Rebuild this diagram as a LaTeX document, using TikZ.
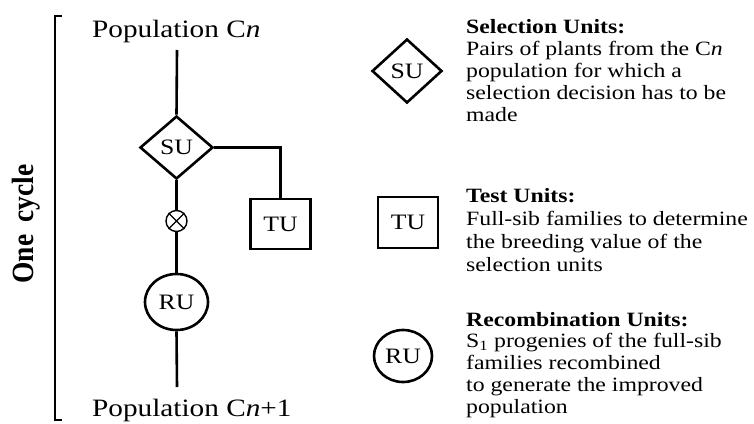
\documentclass[tikz,border=0pt]{standalone}
\usepackage{fontspec}
\setmainfont{Liberation Serif}[FakeStretch=1.17]
\newfontfamily\plainserif{Liberation Serif}
\usetikzlibrary{shapes.geometric}
\tikzset{
  ln/.style={line width=2.6pt},
  unit/.style={draw, line width=2.6pt, inner sep=0pt, font=\fontsize{22}{24}\selectfont},
  sudia/.style={unit, diamond, minimum width=73pt, minimum height=63pt, aspect=1.16},
  tubox/.style={unit, rectangle, minimum width=60pt, minimum height=50pt},
  ruell/.style={unit, ellipse, minimum width=63pt, minimum height=56pt},
  poplabel/.style={inner sep=0pt, anchor=base west, font=\fontsize{25}{27}\selectfont},
  legtext/.style={inner sep=0pt, anchor=base west, font=\fontsize{20.3}{22}\selectfont},
}
\newcommand{\legblock}[1]{\parbox[t]{290pt}{\raggedright #1}}
\begin{document}
\begin{tikzpicture}[x=1pt,y=-1pt]
\useasboundingbox (0,0) rectangle (754,423);
% bracket
\draw[line width=2.6pt] (62,16) -- (55,16) -- (55,420) -- (62,420);
\node[rotate=90, inner sep=0pt, font=\plainserif\bfseries\fontsize{27.5}{29}\selectfont] (cyc) at (26,224) {\scalebox{1}[1.12]{One\hspace{12pt}cycle}};
% flow
\node[poplabel] (pcn) at (92,37) {Population C\textit{n}};
\node[poplabel] (pcn1) at (92,416) {Population C\textit{n}+1};
\coordinate (top) at (177,50);
\coordinate (bot) at (177,387);
\node[sudia] (su) at (176.5,147.5) {SU};
\node[tubox] (tu) at (280.5,224) {TU};
\node[draw, circle, line width=1.4pt, minimum size=21pt, inner sep=0pt] (ox) at (176.5,221) {};
\draw[line width=1.4pt] (ox.45) -- (ox.225) (ox.135) -- (ox.315);
\node[ruell] (ru) at (176.5,302) {RU};
\draw[ln] (top) -- (su.north);
\draw[ln] (su.south) -- (ox.north);
\draw[ln] (ox.south) -- (ru.north);
\draw[ln] (ru.south) -- (bot);
\draw[ln] (su.east) -| (tu.north);
% legend
\node[sudia, minimum width=70pt, minimum height=64pt, aspect=1.09] (lsu) at (407,71) {SU};
\node[tubox, minimum height=51pt] (ltu) at (408,222.5) {TU};
\node[ruell, minimum width=58pt, minimum height=52pt] (lru) at (403,356) {RU};
\node[legtext] (tsu) at (466,33) {\legblock{\textbf{Selection Units:}\\Pairs of plants from the C\textit{n}\\population for which a\\selection decision has to be\\made}};
\node[legtext, font=\fontsize{20.3}{23}\selectfont] (ttu) at (466,202) {\legblock{\textbf{Test Units:}\\Full-sib families to determine\\the breeding value of the\\selection units}};
\node[legtext, font=\fontsize{20.3}{21.8}\selectfont] (tru) at (466,326) {\legblock{\textbf{Recombination Units:}\\S\textsubscript{1} progenies of the full-sib\\families recombined\\to generate the improved\\population}};
\end{tikzpicture}
\end{document}
